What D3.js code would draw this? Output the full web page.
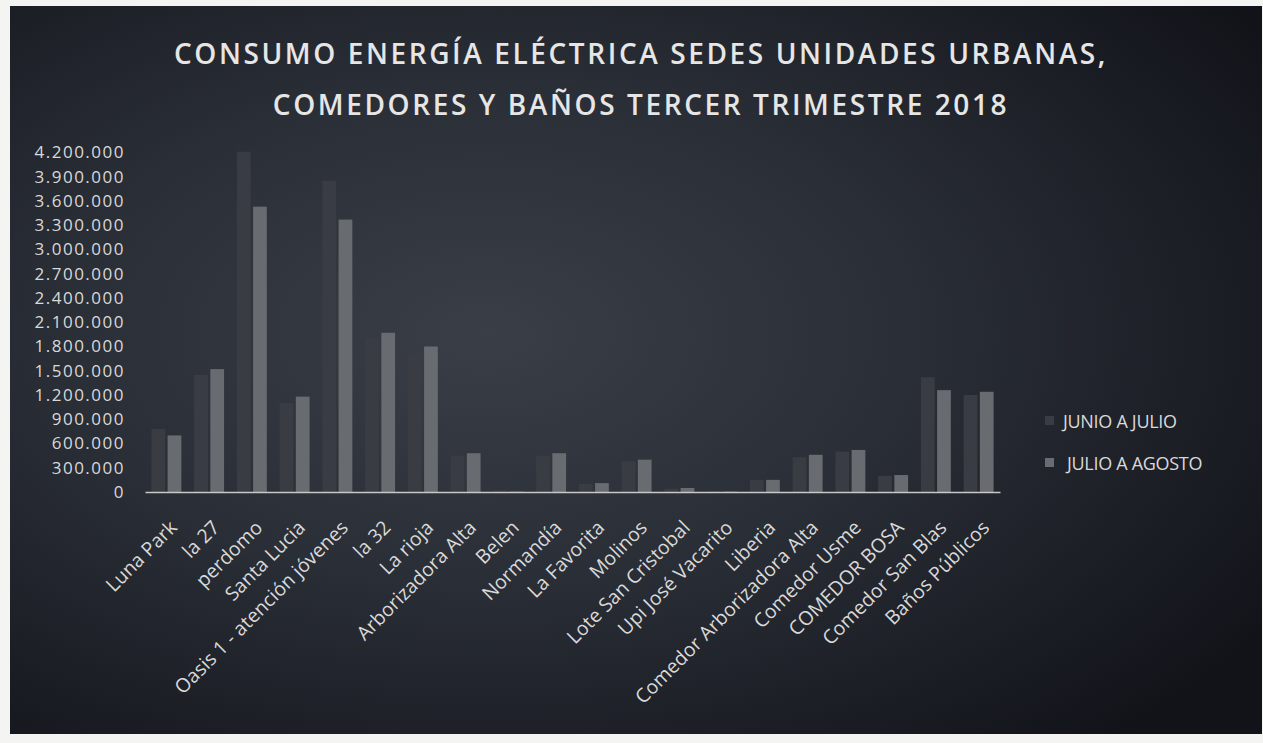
<!DOCTYPE html>
<html>
<head>
<meta charset="utf-8">
<script src="https://cdn.jsdelivr.net/npm/d3@7"></script>
<style>
  body { margin: 0; background: #f4f4f2; }
  svg { display: block; }
</style>
</head>
<body>
<svg></svg>
<script>
const categories = ['Luna Park', 'la 27', 'perdomo', 'Santa Lucia', 'Oasis 1 - atención jóvenes',
  'la 32', 'La rioja', 'Arborizadora Alta', 'Belen', 'Normandía', 'La Favorita', 'Molinos',
  'Lote San Cristobal', 'Upi José Vacarito', 'Liberia', 'Comedor Arborizadora Alta',
  'Comedor Usme', 'COMEDOR BOSA', 'Comedor San Blas', 'Baños Públicos'];
const seriesNames = ['JUNIO A JULIO', 'JULIO A AGOSTO'];
const junioJulio = [780000, 1450000, 4210000, 1100000, 3850000, 1900000, 1700000, 450000, 20000, 450000,
  100000, 380000, 40000, 10000, 150000, 430000, 500000, 200000, 1420000, 1200000];
const julioAgosto = [700000, 1520000, 3530000, 1180000, 3370000, 1970000, 1800000, 480000, 5000, 480000,
  110000, 400000, 50000, 5000, 150000, 460000, 520000, 210000, 1260000, 1240000];
const yTicks = d3.range(0, 4200001, 300000);
const titleLines = ['CONSUMO ENERGÍA ELÉCTRICA SEDES UNIDADES URBANAS,',
  'COMEDORES Y BAÑOS TERCER TRIMESTRE 2018'];

const run = () => {
  const W = 1263, H = 743;
  const svg = d3.select('svg').attr('width', W).attr('height', H);

  // dark paper with a lighter centre
  const grad = svg.append('defs').append('radialGradient')
    .attr('id', 'bg').attr('cx', '0.38').attr('cy', '0.45').attr('r', '0.75');
  grad.append('stop').attr('offset', '0%').attr('stop-color', '#3a3e46');
  grad.append('stop').attr('offset', '45%').attr('stop-color', '#2a2e36');
  grad.append('stop').attr('offset', '100%').attr('stop-color', '#111319');
  svg.append('rect').attr('x', 10).attr('y', 6).attr('width', 1252).attr('height', 728)
    .attr('fill', 'url(#bg)');

  const txt = '#d9d9d9';
  const font = '"Open Sans", Lato, sans-serif';

  svg.selectAll('text.title').data(titleLines).enter().append('text')
    .attr('class', 'title')
    .attr('x', 641).attr('y', (d, i) => 64 + i * 51)
    .attr('text-anchor', 'middle')
    .attr('fill', '#e6e6e6').attr('font-family', font).attr('font-weight', 600)
    .attr('font-size', 28).attr('letter-spacing', 2.6)
    .text(d => d);

  const left = 145, right = 1000, top = 152.5, bottom = 492;
  const x0 = d3.scaleBand().domain(categories).range([left, right]).paddingInner(0.3).paddingOuter(0.15);
  const x1 = d3.scaleBand().domain(seriesNames).range([0, x0.bandwidth()]).paddingInner(0.15);
  const y = d3.scaleLinear().domain([0, 4200000]).range([bottom, top]);
  const fmt = d3.formatLocale({ decimal: ',', thousands: '.', grouping: [3], currency: ['', ''] }).format(',');

  const yAxis = svg.append('g').attr('transform', `translate(${left},0)`)
    .call(d3.axisLeft(y).tickValues(yTicks).tickFormat(fmt).tickSize(0).tickPadding(20));
  yAxis.select('.domain').remove();
  yAxis.selectAll('text').attr('fill', txt).attr('font-family', font).attr('font-size', 17)
    .attr('letter-spacing', 1.5);

  const colors = { 'JUNIO A JULIO': '#393d43', 'JULIO A AGOSTO': '#686b70' };
  const groups = svg.append('g').selectAll('g').data(categories).enter().append('g')
    .attr('transform', d => `translate(${x0(d)},0)`);
  groups.selectAll('rect')
    .data((d, i) => [
      { s: seriesNames[0], v: junioJulio[i] },
      { s: seriesNames[1], v: julioAgosto[i] }])
    .enter().append('rect')
    .attr('x', d => x1(d.s))
    .attr('y', d => y(d.v))
    .attr('width', x1.bandwidth())
    .attr('height', d => bottom - y(d.v))
    .attr('fill', d => colors[d.s]);

  const xAxis = svg.append('g').attr('transform', `translate(0,${bottom})`)
    .call(d3.axisBottom(x0).tickSize(0));
  xAxis.select('.domain').attr('stroke', '#c8c8c8').attr('stroke-width', 1.5);
  xAxis.selectAll('text')
    .attr('fill', txt).attr('font-family', font).attr('font-size', 19.5)
    .attr('text-anchor', 'end')
    .attr('x', 0).attr('y', 0).attr('dy', '0.35em')
    .attr('transform', 'translate(7,32) rotate(-45)');

  // legend
  const legend = svg.append('g').attr('transform', 'translate(1045,0)');
  legend.selectAll('rect').data(seriesNames).enter().append('rect')
    .attr('x', 0).attr('y', (d, i) => 416 + i * 42)
    .attr('width', 9).attr('height', 9)
    .attr('fill', d => colors[d]);
  legend.selectAll('text').data(seriesNames).enter().append('text')
    .attr('x', (d, i) => 18 + i * 4).attr('y', (d, i) => 428 + i * 42)
    .attr('fill', txt).attr('font-family', font).attr('font-size', 18)
    .attr('letter-spacing', -0.3)
    .text(d => d);
};

window.app = { run };
window.app.run();
</script>
</body>
</html>
